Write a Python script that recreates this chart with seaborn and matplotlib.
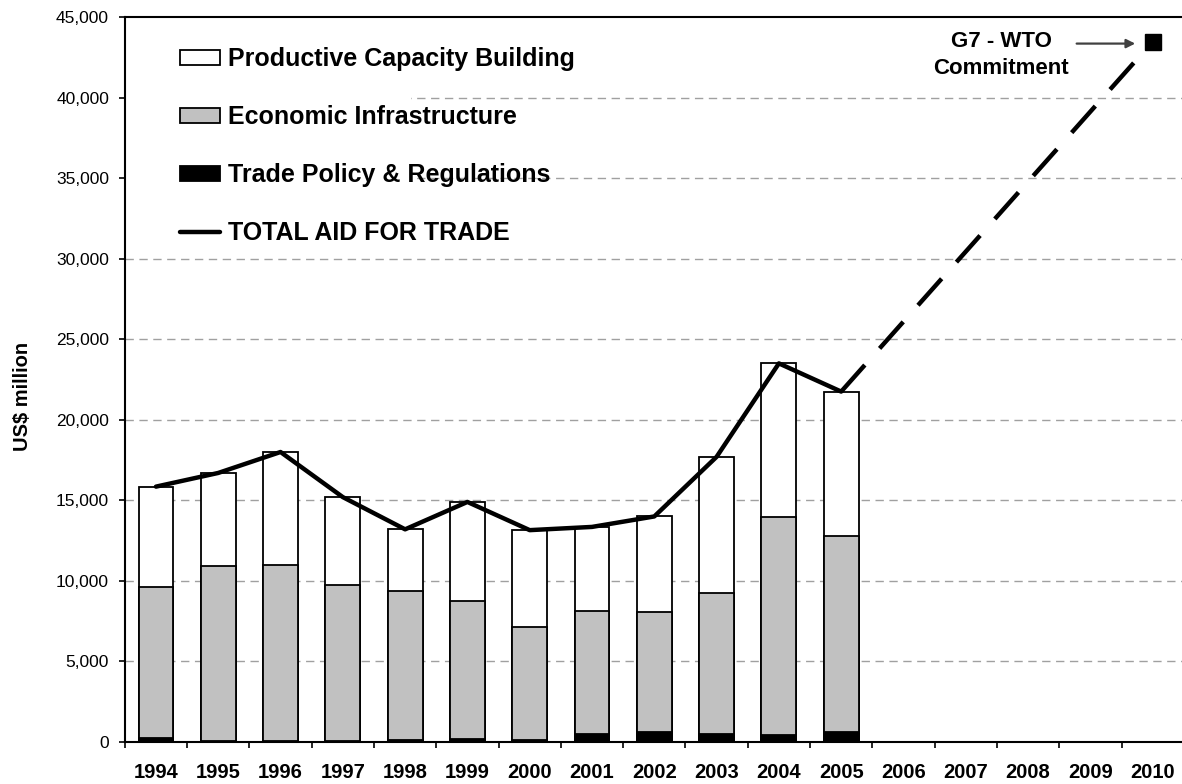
import numpy as np
import pandas as pd
import seaborn as sns
import matplotlib.pyplot as plt
from matplotlib.patches import Patch, Rectangle
from matplotlib.lines import Line2D
from matplotlib.ticker import FuncFormatter, FixedLocator

# years on the axis (bars only up to 2005)
years_all = [str(y) for y in range(1994, 2011)]
years = years_all[:12]

# US$ million
trade_policy = [250, 60, 50, 50, 120, 180, 100, 480, 620, 500, 450, 620]
economic_infra = [9400, 10890, 10950, 9700, 9230, 8570, 7050, 7670, 7430, 8750, 13500, 12180]
productive_cap = [6200, 5750, 7000, 5450, 3850, 6150, 6000, 5200, 5950, 8450, 9550, 8950]

commit_year = "2010"
commit_value = 43470

df = pd.DataFrame({
    "year": years,
    "trade": trade_policy,
    "econ": economic_infra,
    "prod": productive_cap,
})
df["econ_top"] = df["trade"] + df["econ"]
df["total"] = df["econ_top"] + df["prod"]

sns.set_style("ticks")
plt.rcParams["font.family"] = ["Liberation Sans", "DejaVu Sans"]
for k in ["text.color", "axes.labelcolor", "xtick.color", "ytick.color"]:
    plt.rcParams[k] = "black"

fig = plt.figure(figsize=(11.82, 7.84), dpi=100)
ax = fig.add_axes([124.8 / 1182, 42 / 784, 1059 / 1182, 725 / 784])

gray = "#c1c1c1"
bar_kw = dict(order=years_all, width=0.56, saturation=1, errorbar=None,
              edgecolor="black", linewidth=1.3, ax=ax)
sns.barplot(data=df, x="year", y="total", color="white", **bar_kw)
sns.barplot(data=df, x="year", y="econ_top", color=gray, **bar_kw)
sns.barplot(data=df, x="year", y="trade", color="black", **bar_kw)

# total aid line, then projection to the commitment
idx = [years_all.index(y) for y in years]
sns.lineplot(x=idx, y=df["total"], color="black", linewidth=3.2, ax=ax)
i_last = years_all.index(years[-1])
i_commit = years_all.index(commit_year)
ax.plot([i_last, i_commit], [df["total"].iloc[-1], commit_value],
        color="black", lw=3.2, linestyle=(0, (8, 5)), solid_capstyle="butt")
ax.plot([i_commit], [commit_value], marker="s", ms=12, color="black", zorder=5)

ax.text(13.57, 42650, "G7 - WTO\nCommitment", ha="center", va="center",
        fontsize=16, fontweight="bold", linespacing=1.42)
ax.annotate("", xy=(15.72, 43350), xytext=(14.78, 43350),
            arrowprops=dict(arrowstyle="-|>", color="#404040", lw=1.6,
                            mutation_scale=13, shrinkA=0, shrinkB=0))

# axes styling
ax.set_xlim(-0.5, 16.5)
ax.set_ylim(0, 45000)
ax.set_yticks(np.arange(0, 45001, 5000))
ax.yaxis.set_major_formatter(FuncFormatter(lambda v, p: f"{int(v):,}"))
ax.tick_params(axis="y", length=4.3, width=1.2, pad=7, labelsize=12.5)
ax.set_xticks(range(len(years_all)))
ax.set_xticklabels(years_all, fontweight="bold", fontsize=14.5)
ax.tick_params(axis="x", which="major", length=0, pad=15)
ax.xaxis.set_minor_locator(FixedLocator(np.arange(-0.5, 16.6, 1)))
ax.tick_params(axis="x", which="minor", length=4.3, width=1.2)
ax.set_xlabel("")
ax.set_ylabel("US$ million", fontweight="bold", fontsize=14.5,
              family=["Liberation Sans Narrow", "Liberation Sans"])
ax.yaxis.set_label_coords(-0.088, 0.477)

for s in ["left", "bottom", "top"]:
    ax.spines[s].set_linewidth(1.5)
    ax.spines[s].set_color("black")
ax.spines["right"].set_visible(False)

ax.set_axisbelow(True)
for v in range(5000, 45000, 5000):
    ax.axhline(v, color="#a0a0a0", lw=1, linestyle=(0, (6, 4)), zorder=0.5)
# legend area blanks out the grid behind it
ax.add_patch(Rectangle((0, 0.68), 0.27, 0.31, transform=ax.transAxes,
                       facecolor="white", edgecolor="none", zorder=0.8))

handles = [
    Patch(facecolor="white", edgecolor="black", linewidth=1.3),
    Patch(facecolor=gray, edgecolor="black", linewidth=1.3),
    Patch(facecolor="black", edgecolor="black", linewidth=1.3),
    Line2D([], [], color="black", lw=3.2),
]
labels = ["Productive Capacity Building", "Economic Infrastructure",
          "Trade Policy & Regulations", "TOTAL AID FOR TRADE"]
ax.legend(handles, labels, loc="upper left", bbox_to_anchor=(0.052, 0.958),
          frameon=False, borderaxespad=0, borderpad=0,
          prop={"weight": "bold", "size": 18}, handlelength=1.6,
          handleheight=0.55, handletextpad=0.32, labelspacing=1.35)

fig.savefig("out.png", dpi=100)
